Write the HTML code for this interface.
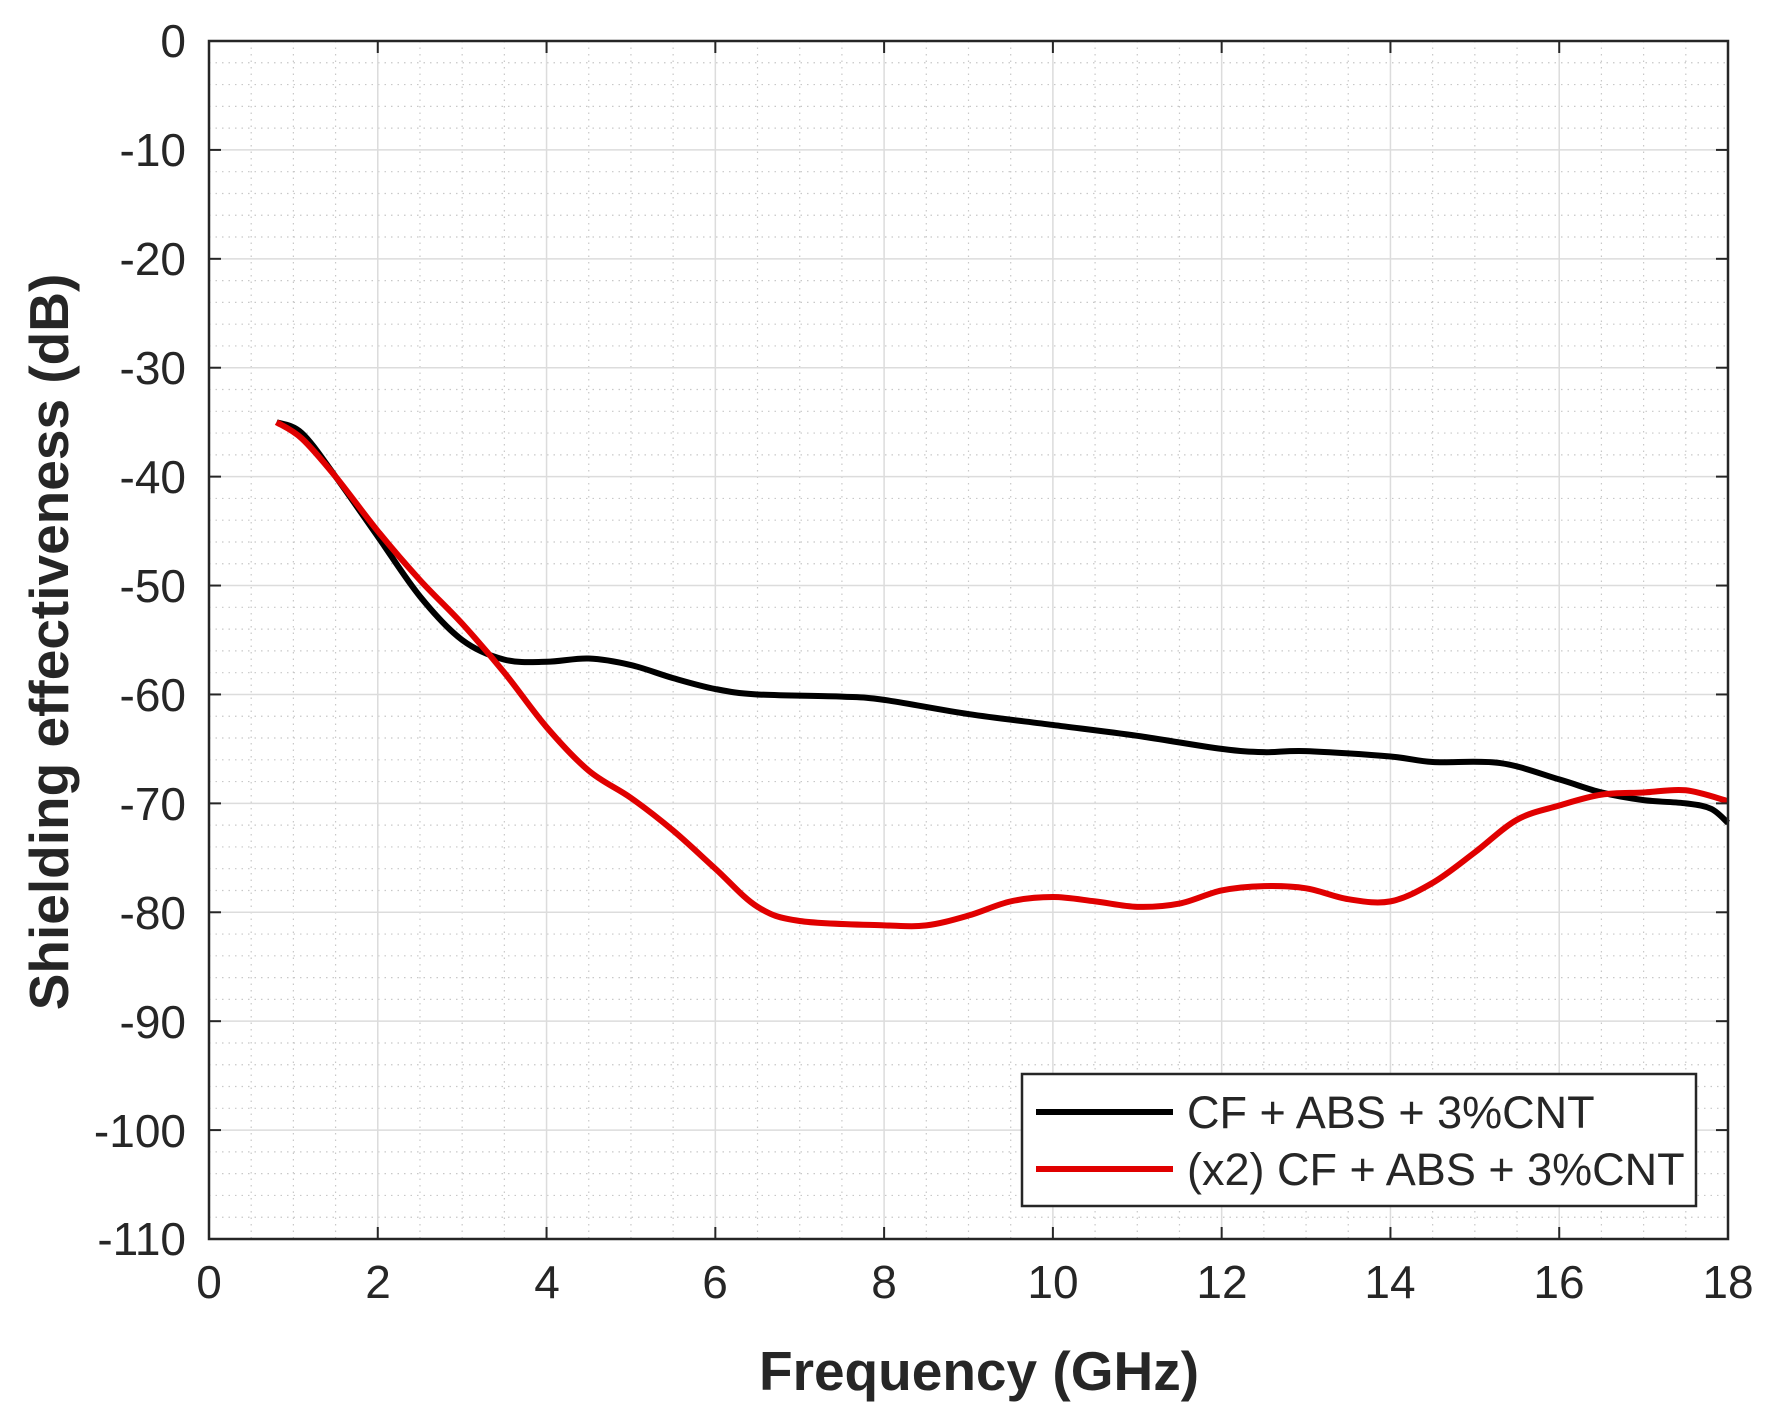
<!DOCTYPE html>
<html><head><meta charset="utf-8"><style>
html,body{margin:0;padding:0;background:#fff;}
svg{display:block;font-family:"Liberation Sans",Arial,sans-serif;}
</style></head><body>
<svg id="s" width="1775" height="1404" viewBox="0 0 1775 1404" xmlns="http://www.w3.org/2000/svg">
<rect width="1775" height="1404" fill="#fff"/>
<g id="grid"></g>
<g id="data"></g>
<rect x="209" y="41" width="1519" height="1198" fill="none" stroke="#262626" stroke-width="2.5"/>
<g id="ticks"></g>
<g font-size="46" fill="#262626" text-anchor="end">
<text x="186" y="57">0</text><text x="186" y="166">-10</text><text x="186" y="275">-20</text><text x="186" y="384">-30</text><text x="186" y="493">-40</text><text x="186" y="602">-50</text><text x="186" y="711">-60</text><text x="186" y="820">-70</text><text x="186" y="929">-80</text><text x="186" y="1038">-90</text><text x="186" y="1147">-100</text><text x="186" y="1255">-110</text>
</g>
<g font-size="46" fill="#262626" text-anchor="middle">
<text x="209" y="1298">0</text><text x="378" y="1298">2</text><text x="547" y="1298">4</text><text x="715" y="1298">6</text><text x="884" y="1298">8</text><text x="1053" y="1298">10</text><text x="1222" y="1298">12</text><text x="1390" y="1298">14</text><text x="1559" y="1298">16</text><text x="1728" y="1298">18</text>
</g>
<text x="979" y="1390" font-size="55" font-weight="bold" fill="#262626" text-anchor="middle">Frequency (GHz)</text>
<text transform="translate(68,642) rotate(-90)" font-size="55" font-weight="bold" fill="#262626" text-anchor="middle">Shielding effectiveness (dB)</text>
<rect x="1022" y="1074" width="674" height="132" fill="#fff" stroke="#262626" stroke-width="2.5"/>
<line x1="1036" y1="1112" x2="1173" y2="1112" stroke="#000" stroke-width="6"/>
<line x1="1036" y1="1169" x2="1173" y2="1169" stroke="#e00000" stroke-width="6"/>
<g font-size="45" fill="#262626">
<text x="1187" y="1128">CF + ABS + 3%CNT</text>
<text x="1187" y="1185">(x2) CF + ABS + 3%CNT</text>
</g>
</svg>
<script>
var L=209,R=1728,T=41,B=1239;
function X(f){return L+(R-L)*f/18;}
function Y(d){return T+(B-T)*(-d)/110;}
var g=document.getElementById('grid'),tk=document.getElementById('ticks'),h='',t='';
for(var f=0.5;f<18;f+=0.5){if(f%2==0)continue;h+='<line x1="'+X(f)+'" y1="'+T+'" x2="'+X(f)+'" y2="'+B+'" stroke="#c8c8c8" stroke-width="1.2" stroke-dasharray="1.5,5"/>';}
for(var d=-2;d>-110;d-=2){if(d%10==0)continue;h+='<line x1="'+L+'" y1="'+Y(d)+'" x2="'+R+'" y2="'+Y(d)+'" stroke="#c8c8c8" stroke-width="1.2" stroke-dasharray="1.5,5"/>';}
for(var f=2;f<18;f+=2){h+='<line x1="'+X(f)+'" y1="'+T+'" x2="'+X(f)+'" y2="'+B+'" stroke="#dcdcdc" stroke-width="1.5"/>';t+='<line x1="'+X(f)+'" y1="'+T+'" x2="'+X(f)+'" y2="'+(T+12)+'" stroke="#262626" stroke-width="2"/><line x1="'+X(f)+'" y1="'+B+'" x2="'+X(f)+'" y2="'+(B-12)+'" stroke="#262626" stroke-width="2"/>';}
for(var d=-10;d>-110;d-=10){h+='<line x1="'+L+'" y1="'+Y(d)+'" x2="'+R+'" y2="'+Y(d)+'" stroke="#dcdcdc" stroke-width="1.5"/>';t+='<line x1="'+L+'" y1="'+Y(d)+'" x2="'+(L+12)+'" y2="'+Y(d)+'" stroke="#262626" stroke-width="2"/><line x1="'+R+'" y1="'+Y(d)+'" x2="'+(R-12)+'" y2="'+Y(d)+'" stroke="#262626" stroke-width="2"/>';}
g.innerHTML=h;tk.innerHTML=t;
var blk=[[0.8,-35],[1.1,-36],[1.5,-40],[2,-45.5],[2.5,-51],[3,-55],[3.5,-56.8],[4,-57],[4.5,-56.7],[5,-57.3],[5.5,-58.5],[6,-59.5],[6.5,-60],[7.5,-60.2],[8,-60.5],[9,-61.8],[10,-62.8],[11,-63.8],[12,-65],[12.5,-65.3],[13,-65.2],[14,-65.7],[14.5,-66.2],[15.3,-66.3],[16,-67.8],[16.5,-69],[17,-69.7],[17.5,-70],[17.8,-70.5],[18,-71.8]];
var red=[[0.8,-35],[1.1,-36.5],[1.5,-40],[2,-45],[2.5,-49.5],[3,-53.5],[3.5,-58],[4,-63],[4.5,-67],[5,-69.5],[5.5,-72.5],[6,-76],[6.5,-79.5],[7,-80.8],[8,-81.2],[8.5,-81.2],[9,-80.3],[9.5,-79],[10,-78.6],[10.5,-79],[11,-79.5],[11.5,-79.2],[12,-78],[12.5,-77.6],[13,-77.8],[13.5,-78.8],[14,-79],[14.5,-77.3],[15,-74.5],[15.5,-71.5],[16,-70.2],[16.5,-69.2],[17,-69],[17.5,-68.8],[18,-69.8]];
function path(p){var s='M'+X(p[0][0])+','+Y(p[0][1]);for(var i=0;i<p.length-1;i++){var p0=p[i>0?i-1:i],p1=p[i],p2=p[i+1],p3=p[i+2<p.length?i+2:i+1];var c1x=X(p1[0])+(X(p2[0])-X(p0[0]))/6,c1y=Y(p1[1])+(Y(p2[1])-Y(p0[1]))/6,c2x=X(p2[0])-(X(p3[0])-X(p1[0]))/6,c2y=Y(p2[1])-(Y(p3[1])-Y(p1[1]))/6;s+=' C'+c1x+','+c1y+' '+c2x+','+c2y+' '+X(p2[0])+','+Y(p2[1]);}return s;}
document.getElementById('data').innerHTML='<path d="'+path(blk)+'" fill="none" stroke="#000" stroke-width="6"/><path d="'+path(red)+'" fill="none" stroke="#e00000" stroke-width="6"/>';
</script>
</body></html>
